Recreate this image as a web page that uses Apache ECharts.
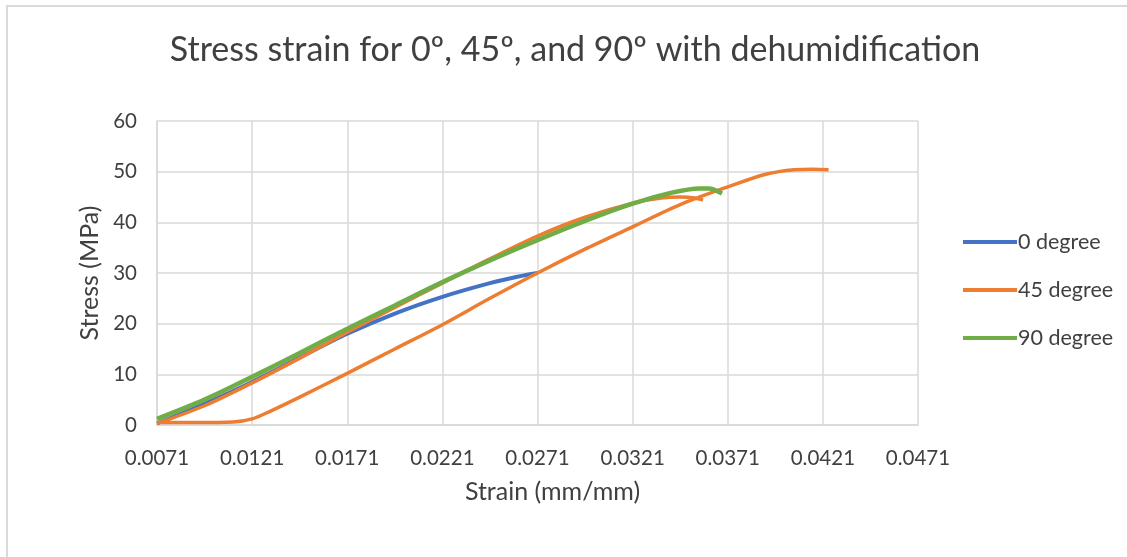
<!DOCTYPE html>
<html>
<head>
<meta charset="utf-8">
<script src="https://cdn.jsdelivr.net/npm/echarts@6/dist/echarts.min.js"></script>
<style>
  html, body { margin: 0; padding: 0; background: #fff; }
  .frame { position: absolute; left: 6px; top: 5px; width: 1200px; height: 600px;
           border-left: 2px solid #d9d9d9; border-top: 2px solid #d9d9d9; }
  #chart { position: absolute; left: 0; top: 0; width: 1127px; height: 557px; }
</style>
</head>
<body>
<div class="frame"></div>
<div id="chart"></div>
<script>
// 0 degree
var strain0 = [0.0071, 0.0096, 0.0121, 0.0146, 0.0171, 0.0196, 0.0221, 0.0246, 0.0261, 0.0271];
var stress0 = [0.3, 4.2, 8.5, 13.3, 18.0, 22.0, 25.3, 28.0, 29.3, 30.0];

// 45 degree (two runs, the break is a null)
var strain45 = [0.0071, 0.0096, 0.0121, 0.0146, 0.0171, 0.0196, 0.0221, 0.0246, 0.0271, 0.0296, 0.0321, 0.0336, 0.0346, 0.0354, 0.0358,
                null,
                0.0071, 0.0091, 0.0111, 0.0121, 0.0131, 0.0146, 0.0171, 0.0196, 0.0221, 0.0246, 0.0271, 0.0296, 0.0321, 0.0346, 0.0371, 0.0391, 0.0406, 0.0416, 0.0424];
var stress45 = [0.3, 3.8, 8.3, 13.2, 18.3, 23.2, 28.0, 32.8, 37.3, 41.0, 43.8, 44.8, 45.0, 44.8, 44.4,
                null,
                0.5, 0.5, 0.6, 1.2, 2.8, 5.5, 10.2, 15.0, 19.8, 25.0, 30.0, 34.7, 39.1, 43.5, 47.0, 49.5, 50.4, 50.5, 50.4];

// 90 degree
var strain90 = [0.0071, 0.0096, 0.0121, 0.0146, 0.0171, 0.0196, 0.0221, 0.0246, 0.0271, 0.0296, 0.0321, 0.0341, 0.0356, 0.0361, 0.0368];
var stress90 = [1.2, 5.0, 9.5, 14.2, 19.0, 23.6, 28.2, 32.5, 36.5, 40.3, 43.7, 45.8, 46.7, 46.7, 45.7];

var seriesNames = ['0 degree', '45 degree', '90 degree'];

function pairs(xs, ys) {
  var out = [];
  for (var i = 0; i < xs.length; i++) {
    out.push(xs[i] === null ? [null, null] : [xs[i], ys[i]]);
  }
  return out;
}

var myChart = echarts.init(document.getElementById('chart'));
var font = 'Lato, "Open Sans", sans-serif';

var options = {
  animation: false,
  title: {
    text: 'Stress strain for 0º, 45º, and 90º with dehumidification',
    left: 570, top: 28, textAlign: 'center',
    textStyle: { fontFamily: font, fontSize: 34, fontWeight: 'normal', color: '#404040' }
  },
  legend: {
    orient: 'vertical',
    left: 958, top: 226,
    icon: 'rect',
    itemWidth: 54, itemHeight: 4,
    itemGap: 26,
    data: seriesNames,
    textStyle: { fontFamily: font, fontSize: 21.5, color: '#404040', lineHeight: 22, padding: [0, 0, 0, -4] }
  },
  grid: { left: 157, right: 209, top: 121, bottom: 132 },
  xAxis: {
    type: 'value',
    min: 0.0071, max: 0.0471, interval: 0.005,
    name: 'Strain (mm/mm)',
    nameLocation: 'middle', nameGap: 54,
    nameTextStyle: { fontFamily: font, fontSize: 25, color: '#404040', padding: [0, 0, 0, 30] },
    axisLine: { lineStyle: { color: '#d9d9d9', width: 1.5 } },
    axisTick: { show: false },
    axisLabel: {
      margin: 23,
      fontFamily: font, fontSize: 20.5, color: '#404040',
      formatter: function (v) { return v.toFixed(4); }
    },
    splitLine: { lineStyle: { color: '#d9d9d9', width: 1.5 } }
  },
  yAxis: {
    type: 'value',
    min: 0, max: 60, interval: 10,
    name: 'Stress (MPa)',
    nameLocation: 'middle', nameGap: 54,
    nameTextStyle: { fontFamily: font, fontSize: 25, color: '#404040' },
    axisLine: { show: true, lineStyle: { color: '#d9d9d9', width: 1.5 } },
    axisTick: { show: false },
    axisLabel: { margin: 20, fontFamily: font, fontSize: 20.5, color: '#404040' },
    splitLine: { lineStyle: { color: '#d9d9d9', width: 1.5 } }
  },
  series: [
    {
      name: seriesNames[0], type: 'line', smooth: 0.3, showSymbol: false,
      color: '#4472C4', lineStyle: { width: 4 },
      data: pairs(strain0, stress0)
    },
    {
      name: seriesNames[1], type: 'line', smooth: 0.3, showSymbol: false, connectNulls: false,
      color: '#ED7D31', lineStyle: { width: 3.5 },
      data: pairs(strain45, stress45)
    },
    {
      name: seriesNames[2], type: 'line', smooth: 0.3, showSymbol: false,
      color: '#70AD47', lineStyle: { width: 4.5 },
      data: pairs(strain90, stress90)
    }
  ]
};

myChart.setOption(options);
</script>
</body>
</html>
